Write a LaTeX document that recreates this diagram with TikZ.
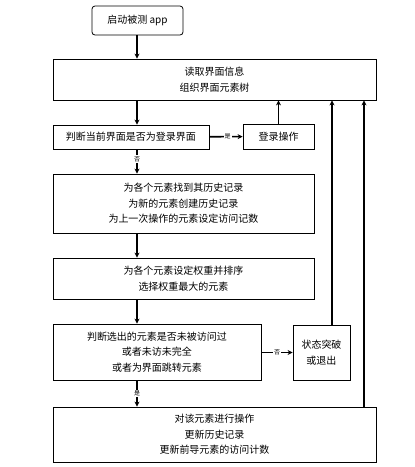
\documentclass[tikz,border=0pt]{standalone}
\usepackage{fontspec}
\newfontfamily\cjk{Noto Sans CJK SC}
\usetikzlibrary{arrows.meta}

\tikzset{
  box/.style={draw, line width=0.8pt, font=\cjk\fontsize{10}{15.5}\selectfont, align=center, inner sep=0pt},
  flow/.style={line width=1.6pt, -{Stealth[length=5pt,width=5pt]}},
  lbl/.style={fill=white, font=\cjk\fontsize{6}{6}\selectfont, inner sep=1pt}
}

\begin{document}
\begin{tikzpicture}[x=1pt,y=-1pt]
			\useasboundingbox (0,0) rectangle (415,467);
			% Boxes
			\node[box, rounded corners=3pt, minimum width=91pt, minimum height=29pt] (start) at (137.5,20.5) {启动被测 app};
			\node[box, minimum width=323pt, minimum height=41pt] (read) at (214.5,79.5) {读取界面信息\\组织界面元素树};
			\node[box, minimum width=156pt, minimum height=24pt] (login) at (131,137) {判断当前界面是否为登录界面};
			\node[box, minimum width=71pt, minimum height=25pt] (loginop) at (278.5,136.5) {登录操作};
			\node[box, minimum width=261pt, minimum height=59pt] (record) at (183.5,203.5) {为各个元素找到其历史记录\\为新的元素创建历史记录\\为上一次操作的元素设定访问记数};
			\node[box, minimum width=261pt, minimum height=41pt] (weight) at (183.5,278.5) {为各个元素设定权重并排序\\选择权重最大的元素};
			\node[box, minimum width=208pt, minimum height=56pt] (check) at (157,352) {判断选出的元素是否未被访问过\\或者未访未完全\\或者为界面跳转元素};
			\node[box, minimum width=57pt, minimum height=55pt] (state) at (321.5,352.5) {状态突破\\或退出};
			\node[box, minimum width=323pt, minimum height=55pt] (operate) at (214.5,434.5) {对该元素进行操作\\更新历史记录\\更新前导元素的访问计数};
			% Main column
			\coordinate (col) at (137,0);
			\draw[flow] (start.south -| col) -- (read.north -| col);
			\draw[flow] (read.south -| col) -- (login.north -| col);
			\draw[flow] (login.south -| col) -- node[lbl, pos=0.4] {否} (record.north -| col);
			\draw[flow] (record.south -| col) -- (weight.north -| col);
			\draw[flow] (weight.south -| col) -- (check.north -| col);
			\draw[flow] (check.south -| col) -- node[lbl] {是} (operate.north -| col);
			% Side branches
			\draw[flow] (login) -- node[lbl, pos=0.55] {是} (loginop);
			\draw[flow] (check.east |- state.west) -- node[lbl, pos=0.5] {否} (state.west);
			% Back to reading
			\coordinate (back1) at (332,0);
			\coordinate (back2) at (364,0);
			\draw[flow] (loginop.north) -- (loginop.north |- read.south);
			\draw[flow] (state.north -| back1) -- (read.south -| back1);
			\draw[flow] (operate.north -| back2) -- (read.south -| back2);
		\end{tikzpicture}
\end{document}
